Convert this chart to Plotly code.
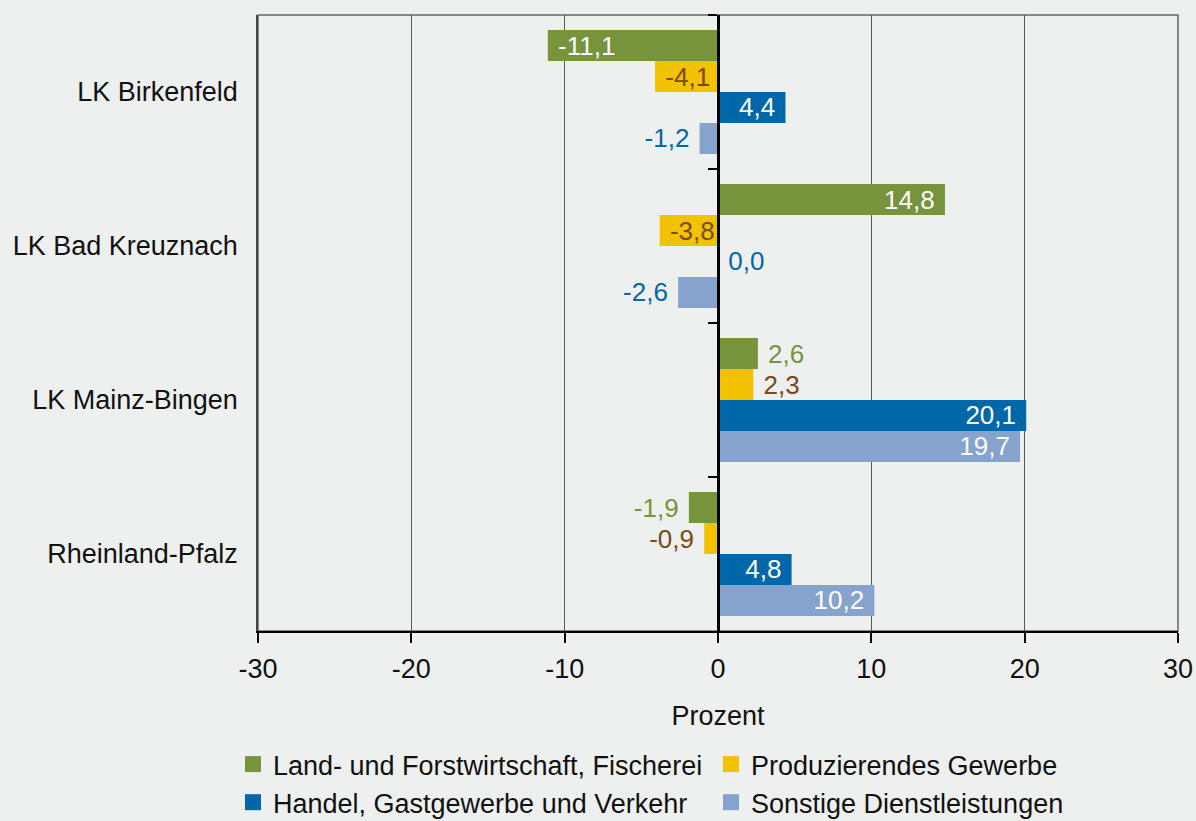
import plotly.graph_objects as go

categories = ["LK Birkenfeld", "LK Bad Kreuznach", "LK Mainz-Bingen", "Rheinland-Pfalz"]
series_names = ["Land- und Forstwirtschaft, Fischerei", "Produzierendes Gewerbe",
                "Handel, Gastgewerbe und Verkehr", "Sonstige Dienstleistungen"]
land = [-11.1, 14.8, 2.6, -1.9]
prod = [-4.1, -3.8, 2.3, -0.9]
handel = [4.4, 0.0, 20.1, 4.8]
sonst = [-1.2, -2.6, 19.7, 10.2]
# which labels sit inside the bar (as in the original)
land_inside = [True, True, False, False]
prod_inside = [True, True, False, False]
handel_inside = [True, False, True, True]
sonst_inside = [False, False, True, True]

x_tick_vals = [-30, -20, -10, 0, 10, 20, 30]
x_tick_text = ["-30", "-20", "-10", "0", "10", "20", "30"]

colors = ["#77933c", "#f2c200", "#0067a9", "#86a3cd"]
inside_colors = ["#ffffff", "#7a4a1a", "#ffffff", "#ffffff"]
outside_colors = ["#77933c", "#7a4a1a", "#0067a9", "#0067a9"]

BG = "#eef0ef"
FONT = "Liberation Sans, Arial, sans-serif"
NB = "\u00a0"

def fmt(v):
    return f"{v:.1f}".replace(".", ",")

def label(v, inside):
    s = fmt(v)
    if inside:
        return (NB + s) if v < 0 else (s + NB)
    return (s + NB) if v < 0 else (NB + s)

fig = go.Figure()
all_vals = [land, prod, handel, sonst]
all_inside = [land_inside, prod_inside, handel_inside, sonst_inside]
for name, vals, ins, c, ic, oc in zip(series_names, all_vals, all_inside, colors, inside_colors, outside_colors):
    fig.add_trace(go.Bar(
        y=categories, x=vals, orientation="h", name=name, showlegend=False,
        marker=dict(color=c, line=dict(width=0)),
        text=[label(v, i) for v, i in zip(vals, ins)],
        textposition=["inside" if i else "outside" for i in ins],
        insidetextanchor="end", constraintext="none",
        insidetextfont=dict(color=ic, size=26, family=FONT),
        outsidetextfont=dict(color=oc, size=26, family=FONT),
        textangle=0, cliponaxis=False, hoverinfo="skip",
    ))

# legend entries
for name, c in zip(series_names, colors):
    fig.add_trace(go.Scatter(
        x=[None], y=[None], mode="markers", name=name,
        marker=dict(symbol="square", size=16, color=c), hoverinfo="skip",
    ))

# helper trace for the zero-line axis with category boundary ticks
fig.add_trace(go.Scatter(x=[None] * len(categories), y=categories, yaxis="y2",
                         mode="markers", showlegend=False, hoverinfo="skip"))

fig.update_layout(
    width=1196, height=821,
    margin=dict(l=258, r=18, t=15, b=190, autoexpand=False),
    paper_bgcolor=BG, plot_bgcolor=BG,
    font=dict(family=FONT, size=27, color="#111111"),
    barmode="group", bargap=0.195, bargroupgap=0,
    xaxis=dict(
        range=[-30, 30], tickmode="array", tickvals=x_tick_vals, ticktext=x_tick_text,
        showgrid=True, gridcolor="#5a5a5a", gridwidth=1,
        zeroline=False, automargin=False,
        showline=True, linecolor="#000000", linewidth=2,
        ticks="outside", ticklen=10, tickwidth=2, tickcolor="#000000",
        tickfont=dict(size=27, color="#111111"),
        ticklabelstandoff=3,
        title=dict(text="Prozent", font=dict(size=27, color="#111111"), standoff=23),
    ),
    yaxis=dict(
        type="category", categoryorder="array", categoryarray=categories,
        range=[3.5, -0.5], automargin=False,
        showgrid=False, zeroline=False,
        showline=True, linecolor="#444444", linewidth=1.5,
        ticks="", tickfont=dict(size=27, color="#111111"),
        ticklabelstandoff=13,
    ),
    yaxis2=dict(
        type="category", categoryorder="array", categoryarray=categories,
        range=[3.5, -0.5], overlaying="y", anchor="free", position=0.5, side="left",
        showgrid=False, zeroline=False, showticklabels=False, automargin=False,
        showline=True, linecolor="#000000", linewidth=2.5,
        ticks="outside", tickson="boundaries", ticklen=9, tickwidth=2, tickcolor="#000000",
    ),
    legend=dict(
        orientation="h", x=-0.0272, xanchor="left", y=-0.1770, yanchor="top",
        entrywidth=433, entrywidthmode="pixels",
        font=dict(size=27, color="#111111"), bgcolor="rgba(0,0,0,0)",
        itemclick=False,
    ),
    shapes=[dict(type="rect", xref="paper", yref="paper", x0=0, x1=1, y0=0, y1=1,
                 line=dict(color="#666666", width=1.5), layer="below")],
)

fig.write_html("out.html", config={"displayModeBar": False},
               post_script="document.body.style.margin='0';")
